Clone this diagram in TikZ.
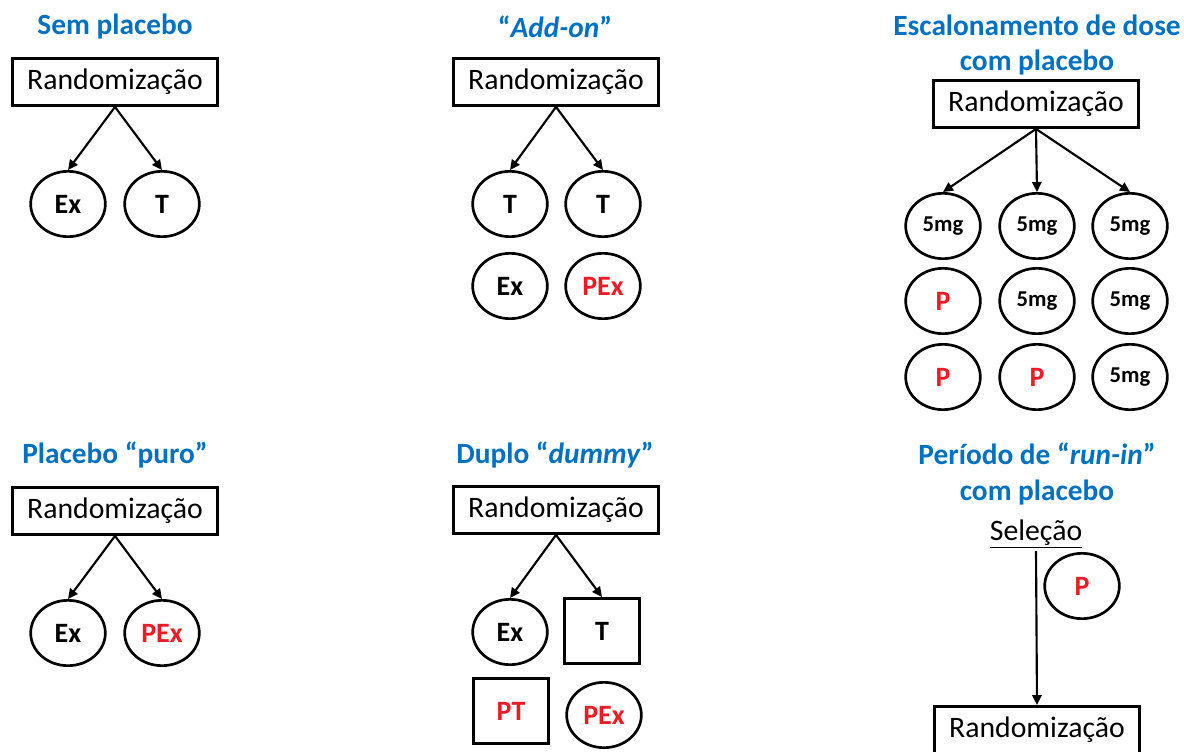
\documentclass[tikz,border=0pt]{standalone}
\usepackage{fontspec}
\setmainfont{Carlito}
\usetikzlibrary{arrows.meta,shapes.geometric}
\definecolor{ttlblue}{RGB}{0,112,192}
\definecolor{pred}{RGB}{237,28,36}
\tikzset{
  ttl/.style={text=ttlblue,font=\fontsize{22}{26.5}\selectfont\bfseries,align=center},
  rbox/.style={draw,line width=2.4pt,minimum width=154pt,minimum height=35pt,inner sep=0pt,font=\fontsize{22.3}{26}\selectfont},
  ell/.style={draw,ellipse,line width=2pt,minimum width=56pt,minimum height=49pt,inner sep=0pt,font=\fontsize{21}{24}\selectfont\bfseries},
  sq/.style={draw,line width=2pt,minimum width=56pt,minimum height=49pt,inner sep=0pt,font=\fontsize{21}{24}\selectfont\bfseries},
  sm/.style={font=\fontsize{17}{20}\selectfont\bfseries},
  pl/.style={text=pred},
  arr/.style={line width=1.6pt,-{Triangle[length=7.5pt,width=7pt]}}
}
\begin{document}
\begin{tikzpicture}[x=0.75pt,y=-0.75pt]
\useasboundingbox (0,0) rectangle (1184,752);
% Panel 1
\node[ttl] (t1) at (115,27) {Sem placebo};
\node[rbox] (r1) at (115,82) {\raisebox{-1.5pt}{Randomização}};
\node[ell] (e11) at (68,204) {Ex};
\node[ell] (e12) at (162,204) {T};
\draw[arr] (r1.south) -- (e11.north);
\draw[arr] (r1.south) -- (e12.north);
% Panel 2
\node[ttl] (t2) at (555,27) {“\textit{Add-on}”};
\node[rbox] (r2) at (556,82) {\raisebox{-1.5pt}{Randomização}};
\node[ell] (e21) at (510,204) {T};
\node[ell] (e22) at (603,204) {T};
\node[ell] (e23) at (510,286) {Ex};
\node[ell,pl] (e24) at (603,286) {PEx};
\draw[arr] (r2.south) -- (e21.north);
\draw[arr] (r2.south) -- (e22.north);
% Panel 3
\node[ttl] (t3) at (1037,45) {Escalonamento de dose\\com placebo};
\node[rbox] (r3) at (1036,104) {\raisebox{-1.5pt}{Randomização}};
\node[ell,sm] (e31) at (943,226) {5mg};
\node[ell,sm] (e32) at (1037,226) {5mg};
\node[ell,sm] (e33) at (1130,226) {5mg};
\node[ell,pl] (e34) at (943,301) {P};
\node[ell,sm] (e35) at (1037,301) {5mg};
\node[ell,sm] (e36) at (1130,301) {5mg};
\node[ell,pl] (e37) at (943,377) {P};
\node[ell,pl] (e38) at (1037,377) {P};
\node[ell,sm] (e39) at (1130,377) {5mg};
\draw[arr] (r3.south) -- (e31.north);
\draw[arr] (r3.south) -- (e32.north);
\draw[arr] (r3.south) -- (e33.north);
% Panel 4
\node[ttl] (t4) at (115,455) {Placebo “puro”};
\node[rbox] (r4) at (115,511) {\raisebox{-1.5pt}{Randomização}};
\node[ell] (e41) at (68,633) {Ex};
\node[ell,pl] (e42) at (162,633) {PEx};
\draw[arr] (r4.south) -- (e41.north);
\draw[arr] (r4.south) -- (e42.north);
% Panel 5
\node[ttl] (t5) at (555,455) {Duplo “\textit{dummy}”};
\node[rbox] (r5) at (556,510) {\raisebox{-1.5pt}{Randomização}};
\node[ell] (e51) at (510,632) {Ex};
\node[sq] (e52) at (602,631) {T};
\node[sq,pl] (e53) at (511,711) {PT};
\node[ell,pl] (e54) at (604,715) {PEx};
\draw[arr] (r5.south) -- (e51.north);
\draw[arr] (r5.south) -- (e52.north);
% Panel 6
\node[ttl] (t6) at (1037,474) {Período de “\textit{run-in}”\\com placebo};
\node[font=\fontsize{22.3}{26}\selectfont,inner sep=2pt] (s6) at (1036,534) {\underline{Seleção}};
\node[ell,pl] (e61) at (1082,586) {P};
\node[rbox] (r6) at (1037,730) {\raisebox{-1.5pt}{Randomização}};
\draw[arr] (s6.south) -- (r6.north);
\end{tikzpicture}
\end{document}
